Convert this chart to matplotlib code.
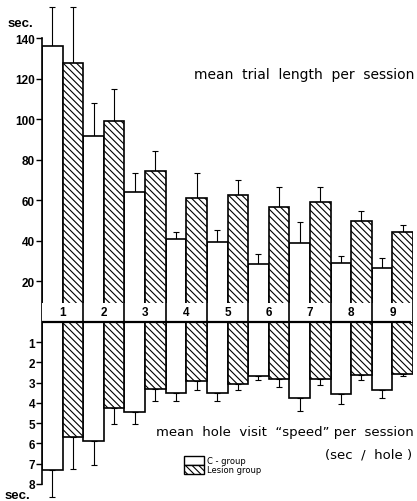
import matplotlib
matplotlib.use("Agg")
import matplotlib.pyplot as plt
from matplotlib.patches import Rectangle, Patch
import numpy as np

# sessions 1..9
sessions = np.arange(1, 10)

# mean trial length per session (sec)
trial_c = [136.1, 91.9, 64.0, 41.0, 39.3, 28.4, 39.2, 29.0, 26.7]
trial_c_err = [19.4, 16.1, 9.7, 3.3, 6.3, 5.4, 10.3, 3.7, 4.8]
trial_l = [127.9, 99.3, 74.6, 61.1, 62.9, 56.9, 59.1, 50.0, 44.3]
trial_l_err = [27.6, 15.6, 10.0, 12.6, 7.4, 9.6, 7.7, 4.7, 3.6]

# mean hole visit "speed" per session (sec / hole)
speed_c = [7.32, 5.90, 4.45, 3.50, 3.50, 2.69, 3.74, 3.58, 3.38]
speed_c_err = [1.32, 1.14, 0.57, 0.40, 0.40, 0.17, 0.66, 0.46, 0.36]
speed_l = [5.68, 4.25, 3.33, 2.92, 3.04, 2.81, 2.84, 2.64, 2.56]
speed_l_err = [1.56, 0.77, 0.57, 0.46, 0.34, 0.41, 0.26, 0.22, 0.13]

top_ticks = [20, 40, 60, 80, 100, 120, 140]
bottom_ticks = [1, 2, 3, 4, 5, 6, 7, 8]

# lower half drawn downward, 1 sec/hole = 10 sec on the shared axis
k = 10.0
hatch = "\\\\\\\\\\"
plt.rcParams["hatch.linewidth"] = 0.8

fig = plt.figure(figsize=(4.17, 5.02), dpi=100)
ax = fig.add_axes([42 / 417, 0, 371 / 417, 1])
w = 0.5
xc = sessions - 0.25
xl = sessions + 0.25

ax.bar(xc, trial_c, width=w, color="white", edgecolor="black", lw=1.2, zorder=2)
ax.bar(xl, trial_l, width=w, color="white", edgecolor="black", lw=1.2, hatch=hatch, zorder=2)
ax.bar(xc, -k * np.array(speed_c), width=w, color="white", edgecolor="black", lw=1.2, zorder=2)
ax.bar(xl, -k * np.array(speed_l), width=w, color="white", edgecolor="black", lw=1.2, hatch=hatch, zorder=2)

zeros = np.zeros(9)
ax.errorbar(xc, trial_c, yerr=[zeros, trial_c_err], fmt="none", ecolor="black", elinewidth=0.8, capsize=2, capthick=0.8, zorder=1)
ax.errorbar(xl, trial_l, yerr=[zeros, trial_l_err], fmt="none", ecolor="black", elinewidth=0.8, capsize=2, capthick=0.8, zorder=1)
ax.errorbar(xc, -k * np.array(speed_c), yerr=[k * np.array(speed_c_err), zeros], fmt="none", ecolor="black", elinewidth=0.8, capsize=2, capthick=0.8, zorder=1)
ax.errorbar(xl, -k * np.array(speed_l), yerr=[k * np.array(speed_l_err), zeros], fmt="none", ecolor="black", elinewidth=0.8, capsize=2, capthick=0.8, zorder=1)

# white band with session numbers
band_h = 9.6
ax.add_patch(Rectangle((0.5, 0), 9.0, band_h, facecolor="white", edgecolor="none", zorder=3))
ax.vlines(np.arange(1.5, 9.6, 1.0), 0, band_h, colors="black", lw=1.2, zorder=4)
for s in sessions:
    ax.text(s, band_h / 2, str(s), ha="center", va="center", fontsize=8.5,
            fontweight="bold", family="Liberation Sans", zorder=5)
ax.hlines(0, 0.5, 9.45, colors="black", lw=1.6, zorder=5)

ax.set_xlim(0.5, 9.5)
ax.set_ylim(-88.4, 159.5)
ax.set_xticks([])
ax.set_yticks(top_ticks + [-k * t for t in bottom_ticks])
ax.set_yticklabels([str(t) for t in top_ticks] + [str(t) for t in bottom_ticks],
                   fontsize=8.5, fontweight="bold", family="Liberation Sans")
ax.tick_params(axis="y", length=4, width=1.0, pad=1)
for sp in ["top", "right", "bottom"]:
    ax.spines[sp].set_visible(False)
ax.spines["left"].set_linewidth(1.2)
ax.spines["left"].set_bounds(-80, 140)

fig.text(8 / 417, 1 - 24 / 502, "sec.", fontsize=9.5, fontweight="bold", family="Liberation Sans", va="center")
fig.text(5 / 417, 1 - 496 / 502, "sec.", fontsize=9.5, fontweight="bold", family="Liberation Sans", va="center")

fig.text(414 / 417, 1 - 75 / 502, "mean  trial  length  per  session", fontsize=10, ha="right", va="center")
fig.text(414 / 417, 1 - 433 / 502, "mean  hole  visit  \u201cspeed\u201d per  session", fontsize=9.5, ha="right", va="center")
fig.text(412 / 417, 1 - 455 / 502, "(sec  /  hole )", fontsize=9.5, ha="right", va="center")

handles = [Patch(facecolor="white", edgecolor="black", lw=1.0),
           Patch(facecolor="white", edgecolor="black", lw=1.0, hatch=hatch)]
fig.legend(handles, ["C - group", "Lesion group"], loc="upper left",
           bbox_to_anchor=(184 / 417, 1 - 457 / 502), bbox_transform=fig.transFigure,
           frameon=False, fontsize=6, labelspacing=0, handlelength=2.4,
           handleheight=1.2, handletextpad=0.35, borderpad=0, borderaxespad=0)

fig.savefig("out.png", dpi=100)
